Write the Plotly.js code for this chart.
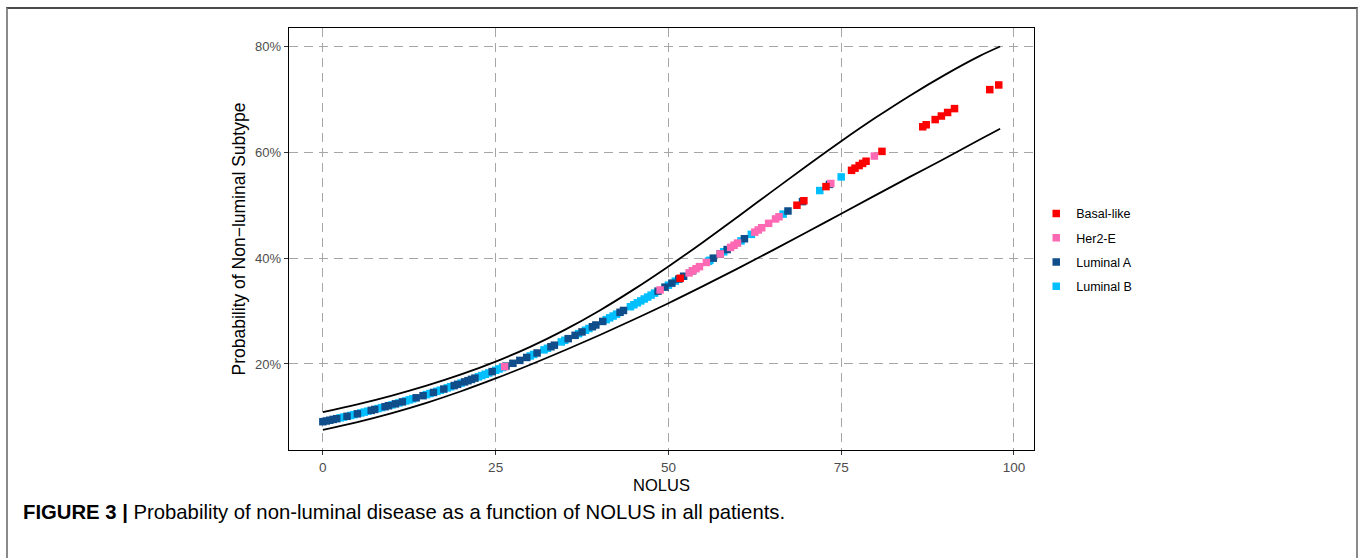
<!DOCTYPE html>
<html>
<head>
<meta charset="utf-8">
<script src="https://cdn.plot.ly/plotly-3.0.1.min.js"></script>
<style>
  html, body { margin: 0; padding: 0; background: #ffffff; }
  #wrap { position: relative; width: 1358px; height: 558px; overflow: hidden; }
  #chart { position: absolute; left: 0; top: 0; width: 1358px; height: 558px; }
  #frame { position: absolute; left: 6px; top: 7px; width: 1348px; height: 600px;
           border-top: 2px solid #4a4a4a; border-left: 2px solid #8a8a8a; border-right: 2px solid #8a8a8a;
           pointer-events: none; }
</style>
</head>
<body>
<div id="wrap">
  <div id="chart"></div>
  <div id="frame"></div>
</div>
<script>
// ---- confidence band ----
const bandX     = [0, 5, 10, 15, 20, 25, 30, 35, 40, 45, 50, 55, 60, 65, 70, 75, 80, 85, 90, 95, 98];
const bandUpper = [0.1091, 0.1238, 0.1404, 0.1591, 0.1803, 0.2045, 0.2324, 0.2644, 0.3006, 0.3408, 0.3841, 0.4299, 0.4775, 0.5257, 0.5736, 0.6203, 0.6649, 0.7068, 0.7456, 0.7809, 0.7990];
const bandLower = [0.0758, 0.0905, 0.1074, 0.1267, 0.1486, 0.1727, 0.1986, 0.2259, 0.2543, 0.2840, 0.3147, 0.3469, 0.3799, 0.4139, 0.4485, 0.4836, 0.5186, 0.5535, 0.5877, 0.6230, 0.6440];

// ---- patients by subtype (NOLUS, predicted probability) ----
const nolusBasal = [51.7, 68.6, 69.6, 72.8, 76.5, 77.0, 77.6, 78.1, 78.6, 80.9, 86.8, 87.3, 88.6, 89.5, 90.4, 91.4, 96.5, 97.8];
const probBasal  = [0.3617, 0.4996, 0.5080, 0.5347, 0.5654, 0.5695, 0.5744, 0.5785, 0.5826, 0.6012, 0.6476, 0.6514, 0.6612, 0.6679, 0.6746, 0.6819, 0.7177, 0.7265];

const nolusHer2 = [26.3, 48.8, 53.0, 53.5, 54.0, 54.5, 55.5, 57.5, 59.0, 59.5, 60.0, 62.5, 63.0, 63.5, 64.5, 65.5, 66.0, 73.5, 79.8];
const probHer2  = [0.1949, 0.3397, 0.3719, 0.3759, 0.3798, 0.3837, 0.3916, 0.4077, 0.4200, 0.4241, 0.4281, 0.4488, 0.4529, 0.4571, 0.4654, 0.4737, 0.4778, 0.5406, 0.5924];

const nolusLumA = [0, 0.5, 1, 1.5, 2, 3.5, 5, 7, 7.5, 9, 9.5, 10.5, 11.5, 13.5, 14.5, 16, 17.5, 19, 19.5, 20.5, 21, 21.5, 22, 24.5, 26.5, 27.5, 28.5, 29.5, 31, 33, 33.5, 35.5, 36.5, 37.5, 39, 39.5, 40.5, 43, 43.5, 48.5, 49.5, 50.5, 51.5, 52.2, 53.5, 56.5, 57.5, 58.5, 61, 67.3, 69.4, 73.3];
const probLumA  = [0.0911, 0.0925, 0.0939, 0.0954, 0.0968, 0.1013, 0.1060, 0.1125, 0.1142, 0.1194, 0.1212, 0.1248, 0.1285, 0.1362, 0.1402, 0.1463, 0.1527, 0.1593, 0.1616, 0.1662, 0.1685, 0.1709, 0.1733, 0.1856, 0.1960, 0.2013, 0.2068, 0.2123, 0.2208, 0.2325, 0.2355, 0.2478, 0.2541, 0.2605, 0.2703, 0.2736, 0.2803, 0.2975, 0.3010, 0.3375, 0.3450, 0.3526, 0.3602, 0.3656, 0.3759, 0.3997, 0.4077, 0.4159, 0.4363, 0.4887, 0.5064, 0.5389];

const nolusLumB = [2.5, 3, 4, 4.5, 5.5, 6, 6.5, 8, 8.5, 10, 11, 12, 12.5, 13, 15, 15.5, 16.5, 17, 18, 18.5, 20, 22.5, 23, 23.5, 24, 25, 25.5, 26, 30, 30.5, 32, 32.5, 34.5, 35, 37, 38, 38.5, 41, 41.5, 42, 42.5, 44.5, 45, 45.5, 46, 46.5, 47, 47.5, 48, 50, 51, 55.8, 56, 58, 60.5, 62, 66.6, 71.9, 75];
const probLumB  = [0.0983, 0.0998, 0.1028, 0.1044, 0.1076, 0.1092, 0.1109, 0.1159, 0.1177, 0.1229, 0.1266, 0.1303, 0.1323, 0.1342, 0.1422, 0.1443, 0.1484, 0.1505, 0.1549, 0.1571, 0.1639, 0.1757, 0.1781, 0.1806, 0.1831, 0.1881, 0.1907, 0.1933, 0.2151, 0.2180, 0.2266, 0.2296, 0.2416, 0.2447, 0.2573, 0.2637, 0.2670, 0.2837, 0.2871, 0.2905, 0.2940, 0.3081, 0.3117, 0.3154, 0.3190, 0.3227, 0.3263, 0.3300, 0.3337, 0.3487, 0.3564, 0.3940, 0.3956, 0.4117, 0.4322, 0.4446, 0.4828, 0.5273, 0.5530];

const xTicks = [0, 25, 50, 75, 100];
const yTicks = [0.2, 0.4, 0.6, 0.8];
const yTickText = ['20%', '40%', '60%', '80%'];

const FONT = 'Liberation Sans, Arial, sans-serif';
const MS = 7.5;

function pts(name, x, y, color, rank) {
  return { type: 'scatter', mode: 'markers', name: name, x: x, y: y,
           legendgroup: name, legendrank: rank,
           marker: { symbol: 'square', size: MS, color: color, line: { width: 0 } },
           hoverinfo: 'x+y+name' };
}

const traces = [
  { type: 'scatter', mode: 'lines', x: bandX, y: bandUpper, showlegend: false,
    line: { color: '#000000', width: 1.8, shape: 'spline', smoothing: 1 }, hoverinfo: 'skip' },
  { type: 'scatter', mode: 'lines', x: bandX, y: bandLower, showlegend: false,
    line: { color: '#000000', width: 1.8, shape: 'spline', smoothing: 1 }, hoverinfo: 'skip' },
  pts('Luminal B', nolusLumB, probLumB, '#00BFFF', 4),
  pts('Luminal A', nolusLumA, probLumA, '#104E8B', 3),
  pts('Her2-E', nolusHer2, probHer2, '#FF69B4', 2),
  pts('Basal-like', nolusBasal, probBasal, '#FF0000', 1)
];

const layout = {
  width: 1358, height: 558,
  margin: { l: 289, r: 324, t: 28, b: 108, pad: 0 },
  paper_bgcolor: '#ffffff', plot_bgcolor: '#ffffff',
  font: { family: FONT, color: '#000000' },
  showlegend: true,
  legend: {
    x: 1.003, xanchor: 'left', y: 0.595, yanchor: 'top',
    font: { family: FONT, size: 12.5, color: '#000000' },
    tracegroupgap: 5, itemsizing: 'trace', bgcolor: 'rgba(0,0,0,0)', borderwidth: 0
  },
  xaxis: {
    range: [-4.9, 102.9], autorange: false,
    tickvals: xTicks, ticktext: xTicks.map(String),
    ticks: 'outside', ticklen: 4, tickwidth: 1, tickcolor: '#333333',
    tickfont: { family: FONT, size: 13.5, color: '#4D4D4D' },
    showline: true, linecolor: '#000000', linewidth: 1.3, mirror: true,
    showgrid: true, gridcolor: '#A6A6A6', gridwidth: 1, griddash: '9px,6px',
    zeroline: false,
    title: { text: 'NOLUS', font: { family: FONT, size: 16.5, color: '#000000' }, standoff: 6 }
  },
  yaxis: {
    range: [0.0377, 0.834], autorange: false,
    tickvals: yTicks, ticktext: yTickText,
    ticks: 'outside', ticklen: 4, tickwidth: 1, tickcolor: '#333333',
    tickfont: { family: FONT, size: 13, color: '#4D4D4D' },
    showline: true, linecolor: '#000000', linewidth: 1.3, mirror: true,
    showgrid: true, gridcolor: '#A6A6A6', gridwidth: 1, griddash: '9px,6px',
    zeroline: false,
    title: { text: 'Probability of Non\u2212luminal Subtype', font: { family: FONT, size: 17.5, color: '#000000' }, standoff: 5 }
  },
  annotations: [{
    xref: 'paper', yref: 'paper',
    x: (21 - 289) / 745, y: (450 - 512) / 422,
    xanchor: 'left', yanchor: 'middle', showarrow: false, align: 'left',
    text: '<b>FIGURE 3 |</b> Probability of non-luminal disease as a function of NOLUS in all patients.',
    font: { family: FONT, size: 20.3, color: '#000000' }
  }]
};

Plotly.newPlot('chart', traces, layout, { displayModeBar: false, staticPlot: true });
</script>
</body>
</html>
